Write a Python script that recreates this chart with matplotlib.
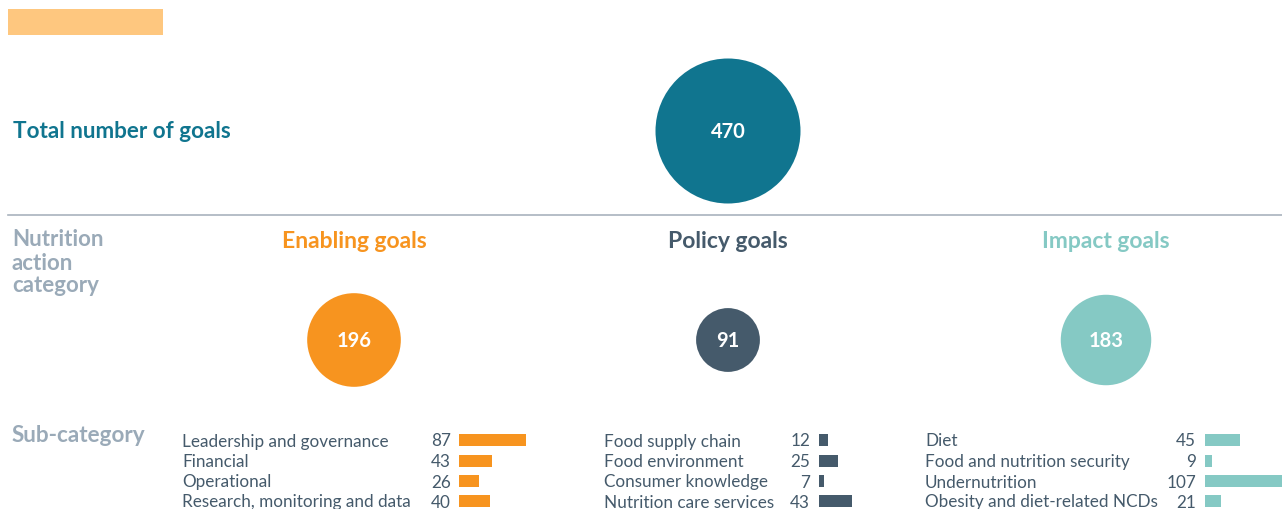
import matplotlib
matplotlib.use("Agg")
import matplotlib.pyplot as plt
from matplotlib.patches import Circle, Rectangle
import numpy as np

plt.rcParams['font.family'] = ['Lato', 'DejaVu Sans']

# data
total_label = "Total number of goals"
total_value = 470

groups = ["Enabling goals", "Policy goals", "Impact goals"]
group_values = [196, 91, 183]
group_colors = ["#F7941F", "#455A6B", "#85C9C4"]

enabling_subs = ["Leadership and governance", "Financial", "Operational",
                 "Research, monitoring and data"]
enabling_vals = [87, 43, 26, 40]
policy_subs = ["Food supply chain", "Food environment", "Consumer knowledge",
               "Nutrition care services"]
policy_vals = [12, 25, 7, 43]
impact_subs = ["Diet", "Food and nutrition security", "Undernutrition",
               "Obesity and diet-related NCDs"]
impact_vals = [45, 9, 107, 21]

sub_labels = [enabling_subs, policy_subs, impact_subs]
sub_vals = [enabling_vals, policy_vals, impact_vals]

TEAL = "#10758F"
GREY = "#9AAAB8"
TEXT = "#455A6B"

W, H = 1282, 509
fig = plt.figure(figsize=(W / 100, H / 100), dpi=100)
ax = fig.add_axes([0, 0, 1, 1])
ax.set_xlim(0, W)
ax.set_ylim(H, 0)
ax.axis('off')

k = 72.5 / np.sqrt(total_value)   # radius scale, area ~ value
bar_k = 67 / 87                   # bar length per goal

# placeholder title block
ax.add_patch(Rectangle((8, 9), 155, 26, color="#FEC77F", lw=0))

ax.text(13, 132, total_label, color=TEAL, fontsize=16.2, fontweight='bold',
        va='center', ha='left')
ax.add_patch(Circle((728, 131), k * np.sqrt(total_value), color=TEAL, lw=0))
ax.text(728, 132, str(total_value), color='white', fontsize=14.5,
        fontweight='bold', ha='center', va='center')

ax.plot([8, W], [215, 215], color="#A9B3BD", lw=1.2)

for y, s in zip([240, 263, 285], ["Nutrition", "action", "category"]):
    ax.text(12, y, s, color=GREY, fontsize=16, fontweight='bold',
            va='center', ha='left')
ax.text(12, 436, "Sub-category", color=GREY, fontsize=16.2, fontweight='bold',
        va='center', ha='left')

centers = [354, 728, 1106]
label_x = [182, 604, 925]
val_x = [451, 810, 1196]
bar_x = [459, 819, 1205]
row_y = [440, 460.5, 481, 501]

for i in range(3):
    c = centers[i]
    ax.text(c, 241.5, groups[i], color=group_colors[i], fontsize=16.5,
            fontweight='bold', ha='center', va='center')
    ax.add_patch(Circle((c, 340), k * np.sqrt(group_values[i]),
                        color=group_colors[i], lw=0))
    ax.text(c, 341, str(group_values[i]), color='white', fontsize=14.5,
            fontweight='bold', ha='center', va='center')
    lens = [v * bar_k for v in sub_vals[i]]
    ax.barh(row_y, lens, left=bar_x[i], height=12, color=group_colors[i],
            clip_on=True)
    for j in range(4):
        ax.text(label_x[i], row_y[j] + 1.5, sub_labels[i][j], color=TEXT,
                fontsize=12.3, ha='left', va='center')
        ax.text(val_x[i], row_y[j] + 1.5, str(sub_vals[i][j]), color=TEXT,
                fontsize=12.3, ha='right', va='center')

fig.savefig("out.png", dpi=100)
